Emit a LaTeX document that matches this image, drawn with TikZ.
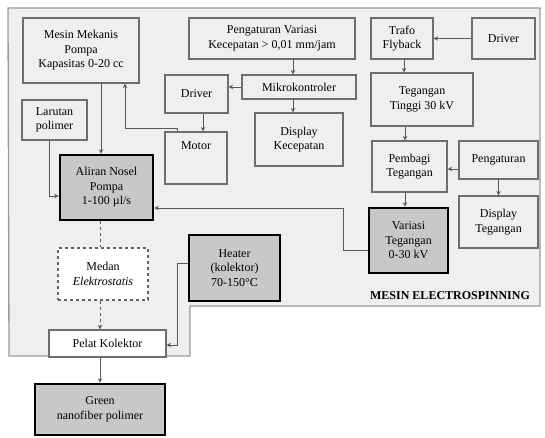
\documentclass[tikz,border=0pt]{standalone}
\usepackage{fontspec}
\setmainfont{Liberation Serif}
\usetikzlibrary{arrows.meta}
\definecolor{bgc}{HTML}{EFEFEF}
\definecolor{bdc}{HTML}{9A9A9A}
\definecolor{boxc}{HTML}{6E6E6E}
\definecolor{darkf}{HTML}{C8C8C8}
\begin{document}
\begin{tikzpicture}[x=1pt,y=-1pt,
  box/.style={draw=boxc,line width=1.1pt,fill=bgc,rectangle,inner sep=2pt,align=center,
    font=\rmfamily\fontsize{12}{14.5}\selectfont},
  wbox/.style={box,fill=white},
  dbox/.style={box,draw=black,line width=2.6pt,fill=darkf},
  mbox/.style={box,fill=white,dashed,draw=boxc!90!black},
  conn/.style={draw=boxc!80!black,line width=0.9pt},
  arr/.style={conn,-{Stealth[length=4.5pt,width=4.5pt]}},
  ]
\useasboundingbox (0,0) rectangle (545,437);
\fill[white] (0,0) rectangle (545,437);
\draw[bdc,line width=1.3pt,fill=bgc] (8,8) -- (540,8) -- (540,306) -- (190,306) -- (190,356) -- (9,356) -- cycle;

% nodes
\node[box,minimum width=116pt,minimum height=65pt] (mesin) at (81,50.5) {Mesin Mekanis\\Pompa\\Kapasitas 0-20 cc};
\node[box,minimum width=166pt,minimum height=41pt] (pvar) at (272,38.5) {Pengaturan Variasi\\Kecepatan > 0,01 mm/jam};
\node[box,minimum width=62pt,minimum height=41pt] (trafo) at (402,38.5) {Trafo\\Flyback};
\node[box,minimum width=63pt,minimum height=41pt] (driverR) at (503.5,38.5) {Driver};
\node[box,minimum width=63pt,minimum height=38pt] (driverM) at (196.5,94) {Driver};
\node[box,minimum width=114pt,minimum height=24pt] (mikro) at (299,87) {Mikrokontroler};
\node[box,minimum width=102pt,minimum height=53pt] (teg) at (422,99.5) {Tegangan\\Tinggi 30 kV};
\node[box,minimum width=65pt,minimum height=40pt] (larutan) at (54.5,120) {Larutan\\polimer};
\node[box,minimum width=62pt,text height=15pt,text depth=33pt] (motor) at (196,158) {Motor};
\node[box,minimum width=88pt,minimum height=53pt] (dispK) at (299,139.5) {Display\\Kecepatan};
\node[box,minimum width=75pt,minimum height=51pt] (pembagi) at (409.5,166.5) {Pembagi\\Tegangan};
\node[box,minimum width=79pt,minimum height=38pt] (pengR) at (498.5,160) {Pengaturan};
\node[box,minimum width=79pt,minimum height=52pt] (dispT) at (498.5,222) {Display\\Tegangan};
\node[dbox,minimum width=79pt,minimum height=65pt] (variasi) at (408.5,240.5) {Variasi\\Tegangan\\0-30 kV};
\node[dbox,minimum width=93pt,minimum height=65pt] (aliran) at (106.5,187.5) {Aliran Nosel\\Pompa\\1-100 µl/s};
\node[mbox,minimum width=90pt,minimum height=52pt] (medan) at (103,274) {Medan\\\textit{Elektrostatis}};
\node[dbox,minimum width=91pt,minimum height=66pt] (heater) at (234.5,268) {Heater\\(kolektor)\\70-150°C};
\node[wbox,minimum width=117pt,minimum height=27pt] (pelat) at (107.5,343.5) {Pelat Kolektor};
\node[dbox,minimum width=130pt,minimum height=51pt] (green) at (100,409.5) {Green\\nanofiber polimer};
\node[font=\rmfamily\fontsize{12}{14}\selectfont\bfseries] (title) at (450,296) {MESIN ELECTROSPINNING};

% helper coordinates
\coordinate (xa) at (100,0);
\coordinate (xm) at (101,0);
\coordinate (xl) at (49,0);
\coordinate (xt) at (404,0);
\coordinate (xp) at (405,0);
\coordinate (xk) at (293,0);
\coordinate (xd) at (203,0);
\coordinate (xmo) at (177,0);
\coordinate (xme) at (125,0);
\coordinate (bendV1) at (343,250);
\coordinate (bendV2) at (343,208);
\coordinate (bendM1) at (177,128);
\coordinate (bendM2) at (125,128);
\coordinate (bendH1) at (177,263);
\coordinate (bendH2) at (177,345);
\coordinate (yv) at (0,250);
\coordinate (ya) at (0,208);
\coordinate (yl) at (0,196);
\coordinate (yp) at (0,169);
\coordinate (yh) at (0,263);
\coordinate (ype) at (0,345);

% connectors
\draw[arr] (driverR) -- (trafo);
\draw[arr] (trafo.south -| xt) -- (teg.north -| xt);
\draw[arr] (teg.south -| xp) -- (pembagi.north -| xp);
\draw[arr] (pengR.west |- yp) -- (pembagi.east |- yp);
\draw[arr] (pengR) -- (dispT);
\draw[arr] (pembagi.south -| xp) -- (variasi.north -| xp);
\draw[arr] (variasi.west |- yv) -- (bendV1) -- (bendV2) -- (aliran.east |- ya);
\draw[arr] (pvar.south -| xk) -- (mikro.north -| xk);
\draw[arr] (mikro.west) -- (driverM.east |- mikro.west);
\draw[arr] (mikro.south -| xk) -- (dispK.north -| xk);
\draw[arr] (driverM.south -| xd) -- (motor.north -| xd);
\draw[arr] (motor.north -| xmo) -- (bendM1) -- (bendM2) -- (mesin.south -| xme);
\draw[arr] (mesin.south -| xm) -- (aliran.north -| xm);
\draw[arr] (larutan.south -| xl) |- (aliran.west |- yl);
\draw[conn,dashed] (aliran.south -| xa) -- (medan.north -| xa);
\draw[arr,dashed] (medan.south -| xa) -- (pelat.north -| xa);
\draw[arr] (heater.west |- yh) -- (bendH1) -- (bendH2) -- (pelat.east |- ype);
\draw[arr] (pelat.south -| xa) -- (green.north -| xa);
\end{tikzpicture}
\end{document}
